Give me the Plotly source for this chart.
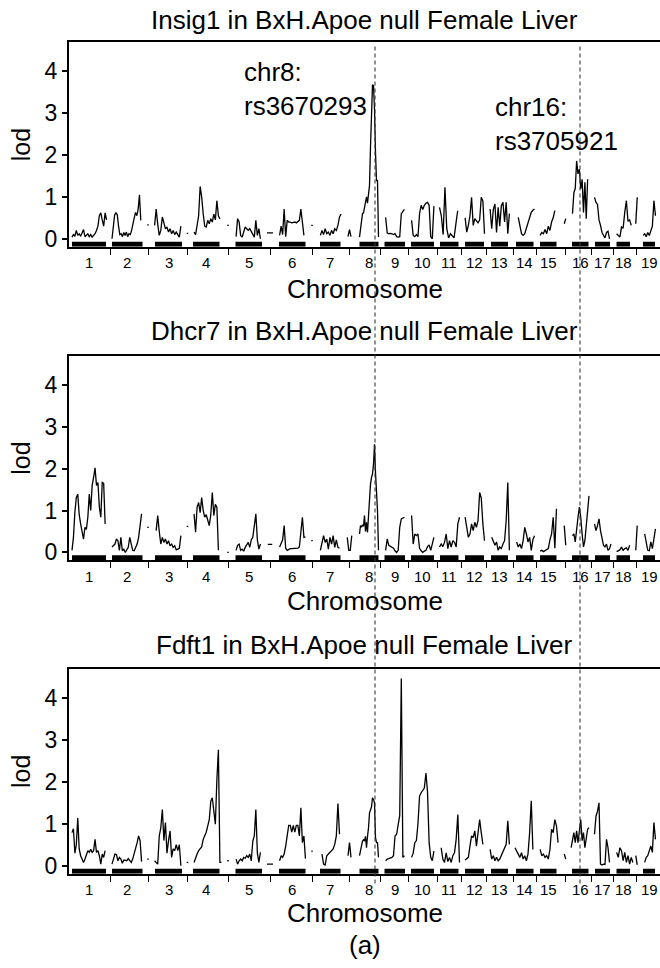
import numpy as np
import plotly.graph_objects as go

# chromosome layout (genome units, one chromosome after another with a gap)
chromosomes = [str(i) for i in range(1, 20)]
chrom_length = [36, 34, 35.5, 36.5, 38, 38, 33.5, 27, 23.5, 25.5, 20, 21, 22.5, 19.5, 24.5, 22, 18, 19.5, 18.5]
chrom_gap = 4

tissue = "BxH.Apoe null Female Liver"
genes = ["Insig1", "Dhcr7", "Fdft1"]

# LOD profile per chromosome, values evenly spread along each chromosome (None = no data)
insig1_lod = [
    [0.04, 0.1, 0.06, 0.2, 0.08, 0.12, 0.06, 0.14, 0.22, 0.05, 0.1, 0.12, 0.05, 0.1, 0.04, 0.08, 0.12, 0.2, 0.3, 0.55, 0.62, 0.45, 0.3, 0.62, 0.45, None],
    [0.0, 0.3, 0.57, 0.62, 0.58, 0.3, 0.1, 0.12, 0.05, 0.15, 0.08, 0.16, 0.05, 0.12, 0.1, 0.2, 0.4, 0.5, 0.63, 0.55, 0.71, 1.05, 0.44, None, None, None, None],
    [None, None, None, 0.32, 0.71, 0.35, 0.08, 0.2, 0.52, 0.38, 0.24, 0.28, 0.16, 0.24, 0.12, 0.2, 0.1, 0.16, 0.08, 0.04, 0.3, None, None, None],
    [None, None, None, 0.16, 0.1, 0.32, 0.55, 1.25, 1.0, 0.6, 0.3, 0.28, 0.44, 0.36, 0.48, 0.4, 0.59, 0.45, 0.91, 0.55, 0.47, None, None, None, None],
    [None, None, None, None, 0.05, 0.48, 0.4, 0.08, 0.04, 0.16, 0.28, 0.24, 0.2, 0.24, 0.16, 0.08, 0.04, 0.44, 0.08, 0.24, 0.0, None, None, None, None, None],
    [None, None, None, None, None, 0.08, 0.3, 0.1, 0.71, 0.05, 0.44, 0.4, 0.4, 0.38, 0.4, 0.4, 0.38, 0.4, 0.44, 0.71, 0.3, 0.08, None, None, None, None],
    [None, None, None, None, 0.08, 0.2, 0.1, 0.24, 0.12, 0.16, 0.08, 0.2, 0.12, 0.24, 0.2, 0.32, 0.52, 0.59, None, None, None, None],
    [None] * 8 + [0.04, 0.2, 0.45, 0.6, 0.62, 0.75, 0.8, 1.0, 0.85, 1.05, 1.27, 2.2, 3.3, 3.68, 3.66, 3.1, 2.06, 1.39, 1.39, 0.04],
    [None, None, 0.51, 0.14, 0.12, 0.13, 0.12, 0.1, 0.12, 0.05, 0.04, 0.05, 0.6, 0.66, 0.7, None],
    [None, 0.44, 0.08, 0.05, 0.1, 0.05, 0.6, 0.8, 0.7, 0.8, 0.85, 0.87, 0.8, 0.05, 0.0, 0.78, None],
    [0.75, 0.55, 0.1, 1.23, 0.24, 0.02, 0.12, 0.08, 0.02, 0.35, 0.67, None],
    [None, 0.5, 0.16, 0.32, 0.55, 0.99, 0.32, 0.48, 0.42, 0.38, 0.45, 0.99, 0.9, 0.12],
    [None, 0.71, 0.24, 0.7, 0.83, 0.15, 0.75, 0.3, 0.79, 0.87, 0.4, 0.87, 0.12, 0.6, None],
    [None, None, 0.51, 0.35, 0.12, 0.08, 0.12, 0.25, 0.4, 0.55, 0.63, 0.68, 0.71],
    [None, 0.08, 0.15, 0.12, 0.22, 0.12, 0.3, 0.2, 0.4, 0.5, 0.67, None, None, None, None, None],
    [None, None, None, None, 0.6, 1.1, 1.2, 1.86, 1.55, 1.66, 1.19, 1.42, 0.63, 1.35, 0.48, 1.42, None],
    [None, 0.99, 0.87, 0.82, 0.45, 0.32, 0.15, 0.08, 0.02, 0.15, 0.18, 0.0, None],
    [None, 0.12, 0.08, 0.04, 0.28, 0.25, 0.63, 0.91, 0.42, 0.45, 0.32, None, None],
    [None, None, None, 0.08, 0.12, 0.05, 0.15, 0.08, 0.2, 0.3, 0.91, 0.55, None],
]
dhcr7_lod = [
    [0.05, 0.36, 0.96, 1.31, 1.39, 0.9, 0.68, 0.44, 0.32, 0.6, 0.55, 0.84, 1.39, 1.0, 1.6, 1.79, 2.02, 1.6, 1.67, 1.08, 0.84, 1.67, 1.65, 0.68, None, None],
    [0.13, 0.16, 0.2, 0.32, 0.28, 0.05, 0.36, 0.04, 0.08, 0.0, 0.05, 0.12, 0.36, 0.2, 0.05, 0.04, 0.12, 0.2, 0.36, 0.6, 0.92, None, None, None],
    [None, None, None, None, 0.52, 0.88, 0.5, 0.2, 0.36, 0.24, 0.32, 0.2, 0.28, 0.16, 0.2, 0.12, 0.16, 0.06, 0.08, 0.1, 0.4, None, None, None],
    [None, None, None, 0.92, 0.48, 1.08, 1.19, 0.95, 1.31, 1.0, 0.84, 0.9, 0.76, 0.64, 0.9, 1.43, 0.88, 1.15, 1.08, 0.05, None, None, None, None, None],
    [None, None, None, None, 0.05, 0.17, 0.2, 0.05, 0.08, 0.03, 0.12, 0.17, 0.24, 0.12, 0.3, 0.36, 0.6, 0.92, 0.3, 0.08, 0.2, None, None, None, None, None],
    [None, None, None, None, None, 0.13, 0.2, 0.3, 0.64, 0.1, 0.05, 0.08, 0.09, 0.09, 0.09, 0.09, 0.09, 0.1, 0.13, 0.6, 0.84, 0.36, 0.37, None, None, None],
    [None, None, None, None, 0.05, 0.28, 0.4, 0.24, 0.32, 0.08, 0.36, 0.2, 0.4, 0.12, 0.3, 0.12, 0.1, None, None, None, None, None],
    [None] * 8 + [0.44, 0.64, 0.6, 0.66, 0.62, 0.88, 0.5, 0.72, 0.48, 0.9, 1.3, 1.63, 1.79, 1.87, 2.1, 2.58, 1.9, 1.39, 1.0, 0.05],
    [None, None, 0.05, 0.32, 0.17, 0.15, 0.12, 0.1, 0.04, 0.0, 0.05, 0.6, 0.8, 0.82, 0.84, None],
    [None, 0.88, 0.2, 0.44, 0.4, 0.44, 0.1, 0.04, 0.0, 0.03, 0.05, 0.14, 0.18, 0.05, 0.2, 0.36, None],
    [0.13, 0.2, 0.14, 0.24, 0.44, 0.09, 0.28, 0.13, 0.28, 0.24, 0.13, 0.68, 0.84],
    [None, 0.84, 0.6, 0.36, 0.44, 0.68, 0.52, 0.72, 0.6, 0.76, 1.43, 1.3, 0.68, 0.28],
    [None, None, 0.36, 0.28, 0.17, 0.25, 0.05, 0.13, 0.09, 0.2, 0.28, 0.76, 1.67, 0.05, None],
    [None, 0.25, 0.13, 0.2, 0.09, 0.28, 0.6, 0.44, 0.25, 0.36, 0.05, 0.3, 0.4],
    [None, 0.03, 0.05, 0.02, 0.04, 0.05, 0.09, 0.3, 0.44, 0.84, 0.1, 1.04, None, None, None, None],
    [None, None, None, None, 0.4, 0.44, 0.25, 0.6, 0.84, 1.08, 0.84, 0.44, 0.13, 0.28, 0.68, 1.0, 1.35],
    [None, 0.68, 0.52, 0.64, 0.8, 0.52, 0.36, 0.17, 0.13, 0.2, 0.05, 0.09, 0.2],
    [None, 0.02, 0.05, 0.06, 0.13, 0.05, 0.09, 0.11, 0.05, 0.17, None, None, None],
    [None, None, None, None, 0.44, 0.2, 0.05, 0.04, 0.25, 0.09, 0.36, 0.56, None],
]
fdft1_lod = [
    [0.79, 0.88, 0.3, 0.5, 1.14, 0.4, 0.24, 0.16, 0.08, 0.16, 0.24, 0.36, 0.32, 0.39, 0.32, 0.36, 0.63, 0.32, 0.36, 0.24, 0.04, 0.28, 0.2, 0.36, None, None],
    [0.04, 0.2, 0.28, 0.27, 0.12, 0.2, 0.16, 0.06, 0.14, 0.13, 0.12, 0.17, 0.12, 0.08, 0.16, 0.28, 0.4, 0.55, 0.71, 0.6, 0.1, None, None, None],
    [None, None, None, 0.12, 0.08, 0.04, 0.71, 0.9, 1.34, 0.6, 1.03, 0.3, 0.6, 0.83, 0.2, 0.4, 0.36, 0.5, 0.36, 0.5, 0.0, None, None, None],
    [None, None, None, 0.08, 0.2, 0.28, 0.36, 0.4, 0.45, 0.63, 0.71, 0.8, 0.95, 1.1, 1.54, 1.62, 1.3, 0.99, 2.05, 2.76, 0.08, 0.08, None, None, None],
    [None, None, None, None, 0.16, 0.04, 0.12, 0.16, 0.12, 0.2, 0.18, 0.24, 0.2, 0.28, 0.12, 0.59, 0.71, 1.34, 0.3, 0.08, 0.32, None, None, None, None, None],
    [None, None, None, None, None, 0.12, 0.24, 0.2, 0.28, 0.47, 0.71, 0.96, 0.96, 0.8, 0.96, 0.8, 0.96, 0.96, 0.71, 1.38, 0.55, 0.71, 0.17, None, None, None],
    [None, None, None, None, None, 0.28, 0.04, 0.02, 0.24, 0.28, 0.32, 0.36, 0.4, 0.51, 0.71, 1.48, 0.75, None, None, None, None, None],
    [None] * 8 + [0.24, 0.39, 0.5, 0.59, 0.62, 0.59, 0.7, 0.43, 0.7, 0.9, 1.26, 1.34, 1.4, 1.62, 1.58, 1.5, 0.67, 0.55, 0.55, 0.2],
    [None, None, 0.12, 0.16, 0.17, 0.18, 0.2, 0.24, 0.71, 0.75, 0.95, 1.2, 4.46, 0.2, 0.24, None],
    [None, 0.2, 0.3, 0.55, 0.6, 1.0, 1.66, 1.74, 1.81, 1.85, 2.21, 1.76, 0.55, 0.2, 0.12, 0.35, None],
    [None, 0.43, 0.16, 0.08, 0.31, 0.1, 0.2, 0.08, 0.24, 0.31, 0.63, 1.22, 0.08],
    [None, 0.14, 0.17, 0.2, 0.47, 0.71, 0.67, 0.83, 0.47, 0.87, 1.1, 0.79, 0.51, None],
    [None, 0.39, 0.16, 0.24, 0.12, 0.2, 0.12, 0.16, 0.24, 0.36, 0.43, 0.51, 1.07, 0.51, None],
    [0.43, 0.36, 0.28, 0.2, 0.31, 0.16, 0.24, 0.12, 0.28, 0.79, 1.55, 0.39, None],
    [None, 0.39, 0.24, 0.28, 0.2, 0.24, 0.16, 0.39, 0.87, 0.79, 1.1, 0.95, 0.55, None, None, None],
    [None, None, None, 0.43, 0.63, 0.79, 0.55, 0.83, 0.55, 0.79, 1.1, 0.6, 0.79, 0.43, 0.67, 0.87, 0.91],
    [None, 0.75, 1.18, 1.3, 1.5, 0.04, 0.02, 0.04, 0.03, 0.63, 0.43, 0.08, None],
    [None, 0.32, 0.2, 0.43, 0.36, 0.12, 0.32, 0.08, 0.24, 0.04, 0.2, 0.08, None],
    [None, None, None, None, 0.08, 0.2, 0.24, 0.36, 0.47, 0.32, 1.03, 0.63, None],
]

# short bits of profile that sit between chromosomes (one entry per boundary)
insig1_between = [[], [0.33, 0.33], [0.13, 0.13], [0.32, 0.32], [0.14, 0.14, 0.14, 0.14, 0.14], [0.32, 0.32],
                  [0.05, 0.22, 0.05], [], [], [], [], [], [], [], [0.36, 0.48], [], [], [0.36, 0.99]]
dhcr7_between = [[], [0.6, 0.6], [0.62, 0.62], [0.0, 0.0], [0.19, 0.19, 0.19, 0.19], [0.28, 0.28],
                 [0.36, 0.05, 0.05, 0.4], [], [], [], [], [], [], [], [0.64, 0.17], [], [], [0.05, 0.64]]
fdft1_between = [[], [0.16, 0.16], [0.08, 0.08], [0.12, 0.12], [0.04, 0.04, 0.04, 0.04, 0.04], [0.35, 0.35],
                 [0.24, 0.55, 0.2], [], [], [], [], [], [], [], [0.28, 0.16], [], [], [0.24, 0.02]]

# marker rug extent (genome units)
rug_start = [0, 40, 83, 121, 163.5, 207, 248, 287.5, 312.5, 339, 368, 393, 419, 444, 468, 500, 523, 544.5, 571]
rug_end = [34, 70.5, 110, 147.5, 190, 233.5, 268.5, 306.5, 333, 362, 386.5, 412, 436, 461.5, 484.5, 516.5, 538, 558, 583]

# cis/trans markers
peak_chrom = [8, 16]
peak_pos = [23.5, 13]
peak_text = ["chr8:<br>rs3670293", "chr16:<br>rs3705921"]

all_lod = [insig1_lod, dhcr7_lod, fdft1_lod]
all_between = [insig1_between, dhcr7_between, fdft1_between]

starts = np.concatenate([[0], np.cumsum(np.array(chrom_length[:-1]) + chrom_gap)])
ends = starts + np.array(chrom_length)
bounds = ends[:-1] + chrom_gap / 2
# chromosome numbers sit under the middle of the marker range
label_pos = (np.array(rug_start) + np.array(rug_end)) / 2

W, H = 660, 968
FONT = "Liberation Sans, Arial, sans-serif"
x_dom = [69 / W, 1.0]
# panel box top / bottom in pixels
box_px = [(42.7, 248), (357.7, 563.3), (672.3, 878.3)]
title_px = [20, 333, 648]
xlab_px = [290, 604, 918]
ylo, yhi = -0.19, 4.69

fig = go.Figure()
layout = dict(width=W, height=H, margin=dict(l=0, r=0, t=0, b=0),
              paper_bgcolor="white", plot_bgcolor="white", showlegend=False,
              font=dict(family=FONT, color="black"))
shapes, annots = [], []

for k in range(3):
    n = "" if k == 0 else str(k + 1)
    xs, ys = [], []
    for i, vals in enumerate(all_lod[k]):
        pos = np.linspace(starts[i], ends[i], len(vals))
        xs += list(pos) + [None]
        ys += list(vals) + [None]
    for j, vals in enumerate(all_between[k]):
        if vals:
            pos = bounds[j] + (np.arange(len(vals)) - (len(vals) - 1) / 2) * 1.5
            xs += list(pos) + [None]
            ys += list(vals) + [None]
    fig.add_trace(go.Scatter(x=xs, y=ys, mode="lines", line=dict(color="black", width=1.3),
                             xaxis="x" + n, yaxis="y" + n, hoverinfo="skip"))

    top, bot = box_px[k]
    layout["xaxis" + n] = dict(domain=x_dom, range=[-3, 588], anchor="y" + n,
                               tickvals=list(bounds), ticktext=[""] * len(bounds),
                               ticks="outside", ticklen=6, tickwidth=1, tickcolor="black",
                               showline=True, linewidth=2, linecolor="black", mirror=True,
                               showgrid=False, zeroline=False, fixedrange=True)
    layout["yaxis" + n] = dict(domain=[1 - bot / H, 1 - top / H], range=[ylo, yhi], anchor="x" + n,
                               tickvals=[0, 1, 2, 3, 4], ticks="outside", ticklen=5, tickwidth=1.5,
                               tickcolor="black", tickfont=dict(size=23),
                               title=dict(text="lod", font=dict(size=25), standoff=7),
                               showline=True, linewidth=2, linecolor="black",
                               showgrid=False, zeroline=False, fixedrange=True)

    # marker rug
    for s, e in zip(rug_start, rug_end):
        shapes.append(dict(type="rect", xref="x" + n, yref="y" + n, x0=s, x1=e, y0=ylo, y1=-0.07,
                           fillcolor="black", line=dict(width=0), layer="above"))

    # chromosome numbers
    for c, name in zip(label_pos, chromosomes):
        annots.append(dict(x=c, y=0, xref="x" + n, yref="y" + n + " domain", text=name,
                           showarrow=False, xanchor="center", yanchor="middle",
                           yshift=-16, font=dict(size=15)))
    annots.append(dict(x=364.8 / W, y=1 - xlab_px[k] / H, xref="paper", yref="paper",
                       text="Chromosome", showarrow=False, xanchor="center", yanchor="middle",
                       font=dict(size=26)))
    annots.append(dict(x=364.8 / W, y=1 - title_px[k] / H, xref="paper", yref="paper",
                       text=f"{genes[k]} in {tissue}", showarrow=False, xanchor="center",
                       yanchor="middle", font=dict(size=26)))

# peak labels in the top panel
label_x = [169.7, 421.3]
label_y = [3.575, 2.735]
for t, lx, ly in zip(peak_text, label_x, label_y):
    annots.append(dict(x=lx, y=ly, xref="x", yref="y", text=t, showarrow=False,
                       xanchor="left", yanchor="middle", align="left", font=dict(size=26)))

# dashed marker lines through all panels
for c, p in zip(peak_chrom, peak_pos):
    xv = starts[c - 1] + p
    shapes.append(dict(type="line", xref="x", yref="paper", x0=xv, x1=xv,
                       y0=1 - 888 / H, y1=1 - 45 / H,
                       line=dict(color="#3a3a3a", width=1.1, dash="4px,3px"), layer="above"))

annots.append(dict(x=364.8 / W, y=1 - 950 / H, xref="paper", yref="paper", text="(a)",
                   showarrow=False, xanchor="center", yanchor="middle", font=dict(size=26)))

layout["shapes"] = shapes
layout["annotations"] = annots
fig.update_layout(**layout)

# drop the browser's default page margin so the figure sits at the window corner
fig.write_html("out.html", config={"displayModeBar": False},
               post_script="document.body.style.margin='0';")
